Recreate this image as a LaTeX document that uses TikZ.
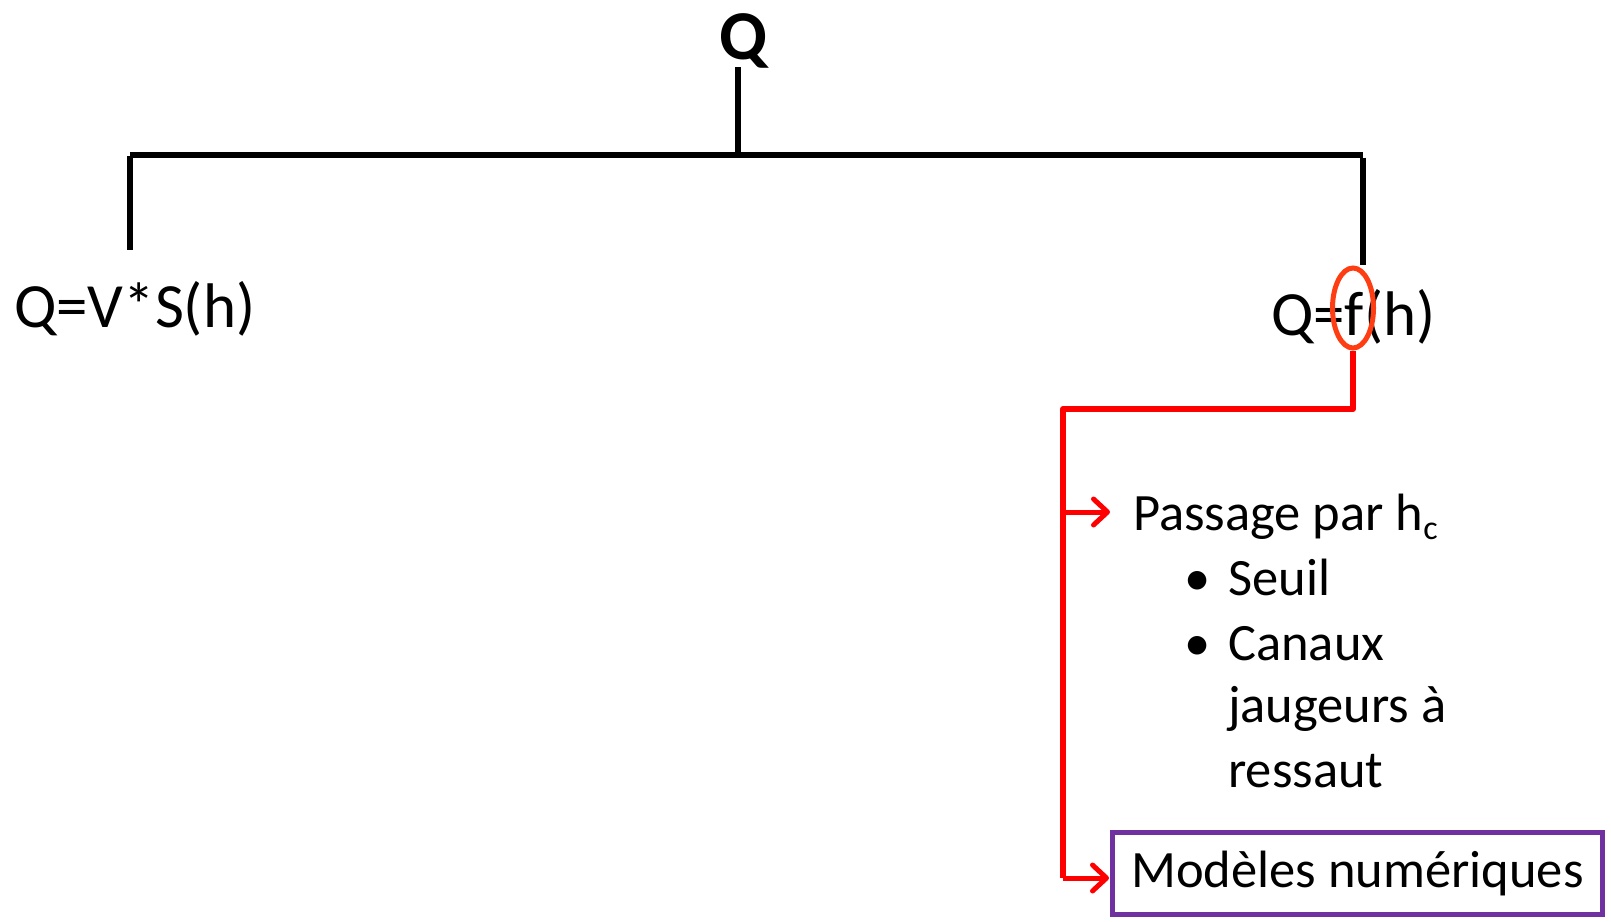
\documentclass[tikz,border=0pt]{standalone}
\usepackage{fontspec}
\setmainfont{Carlito}
\usetikzlibrary{arrows.meta,shapes.geometric}
\definecolor{mark}{HTML}{FF3D12}
\definecolor{boxviolet}{HTML}{7030A0}
\begin{document}
\begin{tikzpicture}[x=1pt,y=-1pt,
  tree/.style={line width=6pt, black},
  redline/.style={line width=6pt, red, line join=round},
  flow/.style={line width=5pt, red, -{Straight Barb[length=14pt,width=26pt,line cap=round,round]}},
  big/.style={font=\fontsize{63}{76}\selectfont, inner sep=0pt},
  mid/.style={font=\fontsize{52.5}{64}\selectfont, inner sep=0pt},
]
\useasboundingbox (0,0) rectangle (1611,921);

% root and the two formulas
\node[font=\bfseries\fontsize{70}{74}\selectfont, inner sep=0pt, anchor=base] (root) at (744,59) {Q};
\node[big, anchor=base west] (left) at (14,327) {Q=V*S(h)};
\node[big, anchor=base west] (right) at (1271,335) {Q=f(h)};

% tree bracket
\coordinate (top) at (738,67);
\coordinate (join) at (738,154.5);
\coordinate (lcorner) at (130,154.5);
\coordinate (rcorner) at (1363,154.5);
\coordinate (lend) at (130,250);
\coordinate (rend) at (1363,265);
\draw[tree] (top) -- (join);
\draw[tree] (lcorner) -- (rcorner);
\draw[tree] ([yshift=-1pt]lcorner) -- (lend);
\draw[tree] ([yshift=-3pt]rcorner) -- (rend);

% highlighted f
\node[draw=mark, line width=5pt, ellipse, minimum width=41pt, minimum height=80pt, inner sep=0pt] (hl) at (1353,308) {};

% branches
\node[mid, anchor=base west] (pass) at (1133,530) {Passage par h\raisebox{-9pt}{\fontsize{34}{40}\selectfont c}};
\node[mid, anchor=base] (dot1) at (1198,595) {•};
\node[mid, anchor=base west] (it1) at (1228,595) {Seuil};
\node[mid, anchor=base] (dot2) at (1198,660) {•};
\node[mid, anchor=base west] (it2) at (1228,660) {Canaux};
\node[mid, anchor=base west] (it2b) at (1228,722) {jaugeurs à};
\node[mid, anchor=base west] (it2c) at (1228,787) {ressaut};

\node[mid, draw=boxviolet, line width=5pt, minimum width=490pt, minimum height=82pt] (num) at (1357.5,873.5) {Modèles numériques};

% red connectors
\coordinate (split) at (1063,409);
\coordinate (p1) at (1110,512);
\draw[redline] (hl.south) |- (split) -- (split |- num.west) -- ++(0,4.5);
\draw[flow] (split |- p1) -- (p1);
\draw[flow, shorten >=1pt] ([yshift=-4.5pt]split |- num.west) -- ([yshift=-4.5pt]num.west);
\end{tikzpicture}
\end{document}
